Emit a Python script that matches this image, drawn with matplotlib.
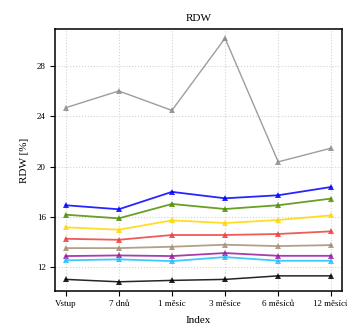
import numpy as np
import matplotlib
matplotlib.use("Agg")
import matplotlib.pyplot as plt

plt.rcParams['font.family'] = ['Liberation Serif', 'DejaVu Serif']

labels = ['Vstup', '7 dnů', '1 měsíc', '3 měsíce', '6 měsíců', '12 měsíců']

gray = [24.66, 25.99, 24.45, 30.17, 20.37, 21.46]
blue = [16.93, 16.61, 17.99, 17.48, 17.72, 18.38]
green = [16.18, 15.89, 17.03, 16.63, 16.93, 17.46]
yellow = [15.18, 14.99, 15.73, 15.52, 15.76, 16.13]
red = [14.27, 14.19, 14.57, 14.57, 14.65, 14.86]
brown = [13.53, 13.53, 13.64, 13.80, 13.69, 13.77]
purple = [12.90, 12.95, 12.90, 13.14, 12.92, 12.92]
cyan = [12.56, 12.64, 12.50, 12.82, 12.53, 12.53]
black = [11.05, 10.86, 10.97, 11.05, 11.33, 11.33]

series = [
    (gray, '#8c8c8c', 1.0),
    (blue, '#0000ff', 1.3),
    (green, '#4f8f00', 1.3),
    (yellow, '#ffd700', 1.3),
    (red, '#f03c3c', 1.3),
    (brown, '#a58f74', 1.3),
    (purple, '#9a1a9a', 1.3),
    (cyan, '#1ec0ff', 1.3),
    (black, '#000000', 1.1),
]

fig = plt.figure(figsize=(3.47, 3.32), dpi=100)
ax = fig.add_axes([0.1585, 0.1235, 0.827, 0.789])

x = np.arange(len(labels))
for vals, col, lw in series:
    ax.plot(x, vals, color=col, lw=lw, alpha=0.85, marker='^', markersize=3.8,
            markeredgewidth=0, zorder=3)

ax.set_xlim(-0.2, 5.2)
ax.set_ylim(10.13, 30.9)
ax.set_xticks(x)
ax.set_xticklabels(labels)
ax.set_yticks([12, 16, 20, 24, 28])
ax.grid(True, color='#d3d3d3', linestyle=':', linewidth=0.8)
ax.set_axisbelow(True)

ax.tick_params(axis='both', direction='out', length=3.5, width=0.8,
               labelsize=6.5, pad=3, top=False, right=False)
for s in ax.spines.values():
    s.set_linewidth(1.1)

ax.set_title('RDW', fontsize=8, pad=6)
ax.set_xlabel('Index', fontsize=8, labelpad=6)
ax.set_ylabel('RDW [%]', fontsize=8, labelpad=6)

fig.savefig('out.png', dpi=100)
